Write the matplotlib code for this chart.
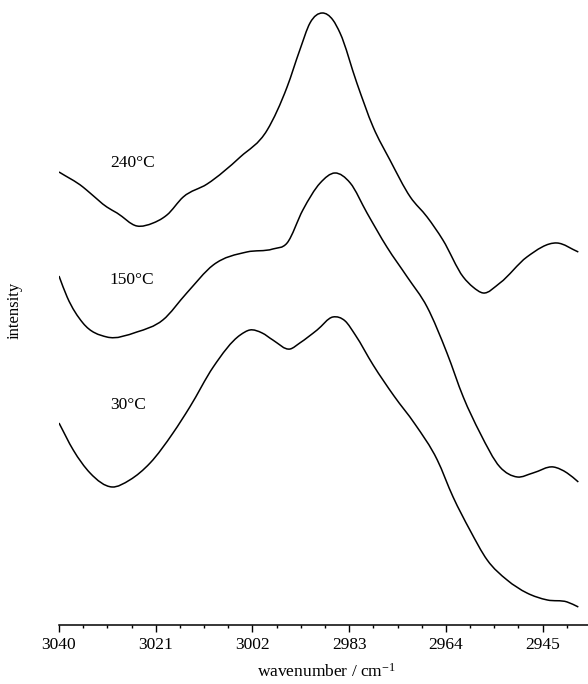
import numpy as np
import matplotlib.pyplot as plt
from matplotlib.path import Path
from matplotlib.patches import PathPatch
from matplotlib.ticker import FixedLocator

plt.rcParams['font.family'] = ['Liberation Serif', 'DejaVu Serif']
plt.rcParams['mathtext.default'] = 'regular'

# wavenumber (cm-1) and intensity (a.u.)
wn_240 = [3040.0, 3035.3, 3033.9, 3030.6, 3028.6, 3024.7, 3021.5, 3019.6, 3018.8,
          3015.6, 3010.9, 3004.4, 2999.1, 2995.2, 2992.7, 2990.7, 2988.3, 2986.2,
          2984.8, 2981.5, 2978.3, 2975.0, 2971.0, 2967.7, 2964.6, 2960.6, 2958.7,
          2956.7, 2953.4, 2948.1, 2942.2, 2938.0]
int_240 = [4.53, 4.38, 4.32, 4.18, 4.12, 3.99, 4.02, 4.07, 4.10,
           4.28, 4.41, 4.68, 4.95, 5.38, 5.75, 6.02, 6.12, 6.05,
           5.92, 5.42, 4.98, 4.65, 4.28, 4.08, 3.85, 3.48, 3.38,
           3.32, 3.42, 3.68, 3.82, 3.73]

wn_150 = [3040.0, 3038.4, 3035.3, 3030.6, 3024.7, 3019.6, 3014.9, 3009.7,
          3003.1, 2998.0, 2995.2, 2992.1, 2988.7, 2985.8, 2982.8, 2979.5, 2975.6,
          2971.6, 2967.7, 2963.8, 2960.6, 2957.3, 2953.4, 2950.0, 2946.9, 2942.9,
          2940.2, 2938.0]
int_150 = [3.49, 3.28, 3.02, 2.88, 2.93, 3.05, 3.32, 3.60,
           3.73, 3.76, 3.82, 4.15, 4.42, 4.52, 4.42, 4.12, 3.78,
           3.48, 3.18, 2.72, 2.28, 1.92, 1.58, 1.48, 1.52, 1.58,
           1.52, 1.43]

wn_30 = [3040.0, 3037.2, 3033.9, 3029.6, 3026.1, 3022.1, 3017.6, 3014.3, 3009.7,
         3004.4, 3002.5, 3000.1, 2998.0, 2994.6, 2992.7, 2989.3, 2986.2,
         2983.8, 2981.8, 2978.3, 2974.2, 2970.1, 2965.7, 2962.6, 2959.3, 2955.9,
         2952.0, 2948.1, 2944.1, 2940.2, 2938.0]
int_30 = [2.02, 1.75, 1.52, 1.38, 1.45, 1.62, 1.92, 2.18, 2.58,
          2.90, 2.95, 2.92, 2.85, 2.76, 2.82, 2.95, 3.08,
          3.04, 2.90, 2.60, 2.29, 2.01, 1.65, 1.28, 0.95, 0.65,
          0.45, 0.32, 0.25, 0.23, 0.18]

labels = ['240°C', '150°C', '30°C']
label_wn = 3030.0
label_int = [4.62, 3.45, 2.20]

major_ticks = [3040, 3021, 3002, 2983, 2964, 2945]


def smooth_path(x, y):
    # hermite curve through the read points, drawn as bezier segments
    x = np.asarray(x, float)
    y = np.asarray(y, float)
    h = np.diff(x)
    d = np.diff(y) / h
    m = np.empty_like(y)
    m[0], m[-1] = d[0], d[-1]
    m[1:-1] = (d[:-1] * h[1:] + d[1:] * h[:-1]) / (h[:-1] + h[1:])
    verts = [(x[0], y[0])]
    codes = [Path.MOVETO]
    for i in range(len(x) - 1):
        verts += [(x[i] + h[i] / 3, y[i] + m[i] * h[i] / 3),
                  (x[i + 1] - h[i] / 3, y[i + 1] - m[i + 1] * h[i] / 3),
                  (x[i + 1], y[i + 1])]
        codes += [Path.CURVE4] * 3
    return Path(verts, codes)


fig = plt.figure(figsize=(5.88, 6.84), dpi=100)
ax = fig.add_axes([0.1003, 0.0863, 0.8997, 0.9137])

for wn, it in [(wn_240, int_240), (wn_150, int_150), (wn_30, int_30)]:
    ax.add_patch(PathPatch(smooth_path(wn, it), facecolor='none',
                           edgecolor='black', lw=1.1))

for lab, y in zip(labels, label_int):
    ax.text(label_wn, y, lab, fontsize=12.5, ha='left', va='center')

ax.set_xlim(3040, 2936.1)
ax.set_ylim(0, 6.25)
ax.xaxis.set_major_locator(FixedLocator(major_ticks))
ax.xaxis.set_minor_locator(FixedLocator(np.arange(3040, 2936, -4.75)))
ax.tick_params(axis='x', which='major', length=5, width=1, labelsize=12.5, pad=4)
ax.tick_params(axis='x', which='minor', length=2.5, width=1)
ax.set_yticks([])
for s in ['left', 'right', 'top']:
    ax.spines[s].set_visible(False)
ax.spines['bottom'].set_linewidth(1.1)

fig.text(326 / 588, 1 - 672 / 684, 'wavenumber / cm$^{-1}$', fontsize=12.5,
         ha='center', va='center')
fig.text(15 / 588, 1 - 310 / 684, 'intensity', fontsize=12, rotation=90,
         ha='center', va='center')

fig.savefig('out.png', dpi=100)
